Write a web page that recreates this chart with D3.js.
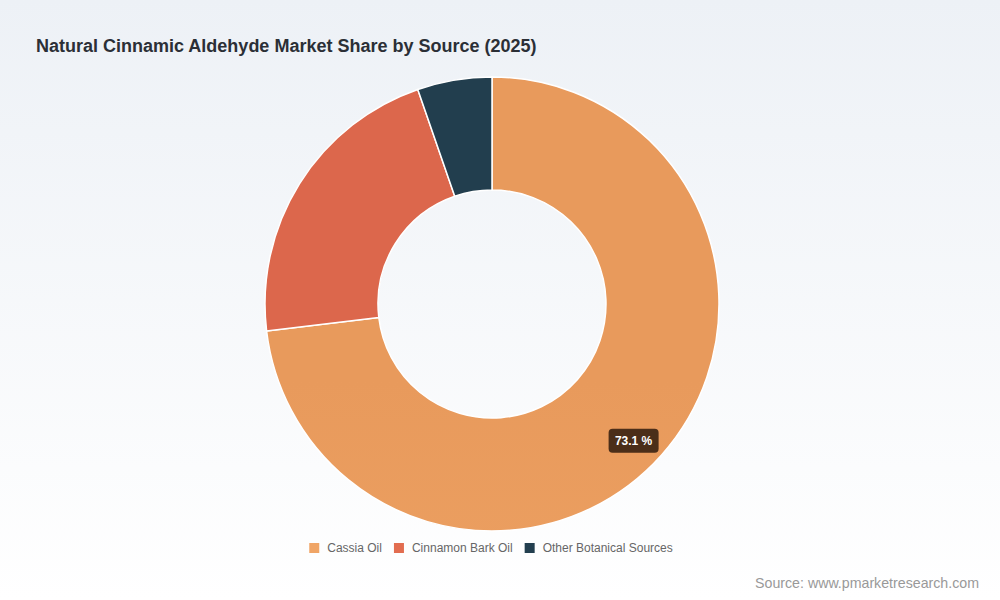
<!DOCTYPE html>
<html>
<head>
<meta charset="utf-8">
<script src="https://cdn.jsdelivr.net/npm/d3@7/dist/d3.min.js"></script>
<style>
  html, body { margin: 0; padding: 0; }
  body { width: 1000px; height: 600px; overflow: hidden; }
  svg { display: block; font-family: "Liberation Sans", Arial, sans-serif; }
</style>
</head>
<body>
<svg id="chart"></svg>
<script>
const categories = ["Cassia Oil", "Cinnamon Bark Oil", "Other Botanical Sources"];
const shares = [73.1, 21.6, 5.3];
const colors = ["#F0A566", "#E26D50", "#233F4F"];
const colorsTop = ["#E89A5C", "#DC674C", "#223E4E"];

const w = 1000;
const h = 600;
const cx = 492, cy = 304;
const outerR = 227, innerR = 114;

const svg = d3.select("#chart")
    .attr("width", w)
    .attr("height", h);

const defs = svg.append("defs");
const bg = defs.append("linearGradient")
    .attr("id", "bg")
    .attr("x1", 0).attr("y1", 0).attr("x2", 0).attr("y2", 1);
bg.append("stop").attr("offset", "0%").attr("stop-color", "#EDF1F6");
bg.append("stop").attr("offset", "100%").attr("stop-color", "#FFFFFF");

categories.forEach((c, i) => {
    const g = defs.append("linearGradient")
        .attr("id", "slice" + i)
        .attr("gradientUnits", "userSpaceOnUse")
        .attr("x1", 0).attr("y1", cy - outerR).attr("x2", 0).attr("y2", cy + outerR);
    g.append("stop").attr("offset", "0%").attr("stop-color", colorsTop[i]);
    g.append("stop").attr("offset", "100%").attr("stop-color", colors[i]);
});

svg.append("rect")
    .attr("width", w)
    .attr("height", h)
    .attr("fill", "url(#bg)");

svg.append("text")
    .attr("x", 36)
    .attr("y", 52)
    .attr("font-size", 18)
    .attr("font-weight", 700)
    .attr("fill", "#2B2F36")
    .text("Natural Cinnamic Aldehyde Market Share by Source (2025)");

const pie = d3.pie().sort(null).value(d => d);
const arcs = pie(shares);
const arc = d3.arc().innerRadius(innerR).outerRadius(outerR);

const chart = svg.append("g")
    .attr("transform", `translate(${cx},${cy})`);

chart.selectAll("path")
    .data(arcs)
    .enter()
    .append("path")
    .attr("d", arc)
    .attr("fill", (d, i) => `url(#slice${i})`)
    .attr("stroke", "#FFFFFF")
    .attr("stroke-width", 1.5)
    .attr("stroke-linejoin", "round");

// label on the largest slice
const labelArc = d3.arc().innerRadius(200).outerRadius(200);
const big = arcs[0];
const [lx, ly] = labelArc.centroid(big);
const lab = chart.append("g")
    .attr("transform", `translate(${lx - 8},${ly + 4})`);
lab.append("rect")
    .attr("x", -25).attr("y", -12)
    .attr("width", 50).attr("height", 24)
    .attr("rx", 4)
    .attr("fill", "#4B2E19");
lab.append("text")
    .attr("text-anchor", "middle")
    .attr("dy", "0.36em")
    .attr("font-size", 12)
    .attr("font-weight", 700)
    .attr("fill", "#FFFFFF")
    .text(d3.format(".1f")(shares[0]) + " %");

// legend
const legend = svg.append("g");
let xPos = 0;
categories.forEach((c, i) => {
    const it = legend.append("g");
    it.append("rect")
        .attr("x", 0).attr("y", -5)
        .attr("width", 10).attr("height", 10)
        .attr("fill", colors[i]);
    const t = it.append("text")
        .attr("x", 18)
        .attr("dy", "0.35em")
        .attr("font-size", 12)
        .attr("fill", "#666666")
        .text(c);
    const tw = t.node().getComputedTextLength();
    it.attr("transform", `translate(${xPos},0)`);
    xPos += 18 + tw + 12;
});
const legendW = xPos - 12;
legend.attr("transform", `translate(${cx - 1 - legendW / 2},548)`);

svg.append("text")
    .attr("x", 979)
    .attr("y", 588)
    .attr("text-anchor", "end")
    .attr("font-size", 14.2)
    .attr("fill", "#999999")
    .text("Source: www.pmarketresearch.com");
</script>
</body>
</html>
